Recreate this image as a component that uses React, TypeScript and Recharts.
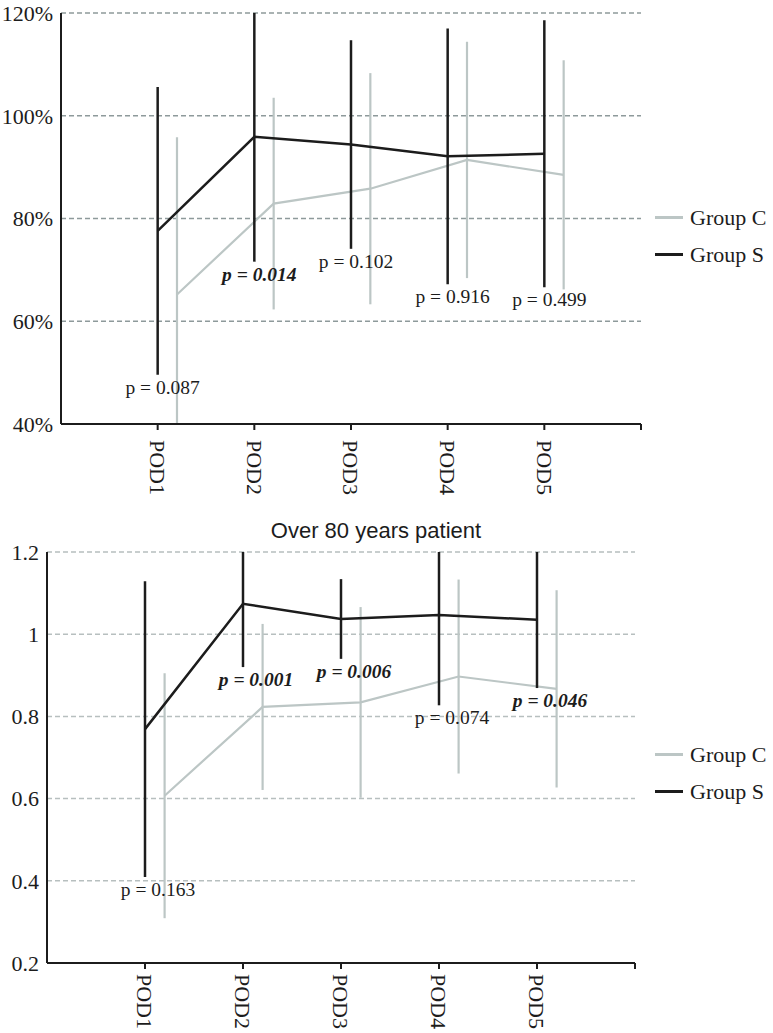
import React from "react";
import { CartesianGrid, ErrorBar, Legend, Line, LineChart, ReferenceDot, XAxis, YAxis } from "recharts";

const days = ["POD1", "POD2", "POD3", "POD4", "POD5"];

// all patients (%)
const allS = [77.6, 95.9, 94.4, 92.1, 92.6];
const allSsd = [28, 24.3, 20.3, 24.9, 26];
const allC = [65.2, 82.9, 85.8, 91.4, 88.5];
const allCsd = [30.6, 20.6, 22.5, 23, 22.3];
const allP = ["0.087", "0.014", "0.102", "0.916", "0.499"];
const allSig = [false, true, false, false, false];

// over 80 years
const oldS = [0.769, 1.074, 1.037, 1.047, 1.035];
const oldSsd = [0.36, 0.154, 0.097, 0.22, 0.166];
const oldC = [0.607, 0.823, 0.834, 0.897, 0.867];
const oldCsd = [0.298, 0.202, 0.232, 0.236, 0.24];
const oldP = ["0.163", "0.001", "0.006", "0.074", "0.046"];
const oldSig = [false, true, true, false, true];

const C_SHIFT = 0.2;
const DARK = "#1c1c1c";
const LIGHT = "#bcc6c5";
const SERIF = "'Liberation Serif', 'Times New Roman', serif";

// whiskers stop at the plot edge, like the original
const toRows = (vals: number[], sd: number[], shift: number, [lo, hi]: [number, number]) =>
  vals.map((v, i) => ({
    x: i + 1 + shift,
    v,
    e: [v - Math.max(v - sd[i], lo), Math.min(v + sd[i], hi) - v],
  }));

const PodTick = ({ x, y, payload, gap }: any) => {
  const label = days[payload.value - 1];
  if (!label) return null;
  return (
    <g transform={`translate(${x},${y}) rotate(90)`}>
      <text x={gap} y={0} dy="0.35em" textAnchor="start" fill={DARK} fontSize={22} fontFamily={SERIF}>
        {label}
      </text>
    </g>
  );
};

const LegendBox = () => (
  <div style={{ fontFamily: SERIF, fontSize: 22, color: DARK }}>
    {[
      { name: "Group C", color: LIGHT },
      { name: "Group S", color: DARK },
    ].map((it) => (
      <div key={it.name} style={{ display: "flex", alignItems: "center", height: 37 }}>
        <div style={{ width: 28, height: 0, borderTop: `3px solid ${it.color}`, marginRight: 7 }} />
        <span style={{ lineHeight: 1 }}>{it.name}</span>
      </div>
    ))}
  </div>
);

type PanelProps = {
  s: number[];
  ssd: number[];
  c: number[];
  csd: number[];
  p: string[];
  sig: boolean[];
  domain: [number, number];
  ticks: number[];
  fmt: (v: number) => string;
  width: number;
  height: number;
  margin: { top: number; right: number; bottom: number; left: number };
  yWidth: number;
  xHeight: number;
  gridColor: string;
  tickGap: number;
  pdx: number;
  legendPos: { left: number; top: number };
  children?: React.ReactNode;
};

function Panel(props: PanelProps) {
  const sRows = toRows(props.s, props.ssd, 0, props.domain);
  const cRows = toRows(props.c, props.csd, C_SHIFT, props.domain);
  return (
    <LineChart width={props.width} height={props.height} margin={props.margin}>
      <CartesianGrid vertical={false} stroke={props.gridColor} strokeWidth={1.5} strokeDasharray="5 3" />
      <XAxis
        type="number"
        dataKey="x"
        domain={[0, 6]}
        ticks={[1, 2, 3, 4, 5, 6]}
        allowDataOverflow
        height={props.xHeight}
        axisLine={{ stroke: DARK, strokeWidth: 2 }}
        tickLine={{ stroke: DARK, strokeWidth: 2 }}
        tickSize={6}
        tick={<PodTick gap={props.tickGap} />}
      />
      <YAxis
        type="number"
        domain={props.domain}
        ticks={props.ticks}
        allowDataOverflow
        width={props.yWidth}
        axisLine={{ stroke: DARK, strokeWidth: 2 }}
        tickLine={false}
        tickFormatter={props.fmt}
        tick={{ fill: DARK, fontSize: 22, fontFamily: SERIF }}
      />
      <Legend
        layout="vertical"
        align="center"
        verticalAlign="middle"
        content={<LegendBox />}
        wrapperStyle={{ left: props.legendPos.left, top: props.legendPos.top, width: 130 }}
      />
      <Line data={cRows} dataKey="v" name="Group C" stroke={LIGHT} strokeWidth={2.2} dot={false} isAnimationActive={false}>
        <ErrorBar dataKey="e" width={0} stroke={LIGHT} strokeWidth={2.2} direction="y" isAnimationActive={false} />
      </Line>
      <Line data={sRows} dataKey="v" name="Group S" stroke={DARK} strokeWidth={2.5} dot={false} isAnimationActive={false}>
        <ErrorBar dataKey="e" width={0} stroke={DARK} strokeWidth={2.5} direction="y" isAnimationActive={false} />
      </Line>
      {props.p.map((pv, i) => (
        <ReferenceDot
          key={i}
          x={i + 1}
          y={props.s[i] - props.ssd[i]}
          r={0}
          shape={(d: any) => (
            <text
              x={d.cx + props.pdx}
              y={d.cy + 19}
              textAnchor="middle"
              fill={DARK}
              fontSize={19.5}
              fontFamily={SERIF}
              fontWeight={props.sig[i] ? "bold" : "normal"}
              fontStyle={props.sig[i] ? "italic" : "normal"}
            >
              {`p = ${pv}`}
            </text>
          )}
        />
      ))}
      {props.children}
    </LineChart>
  );
}

export default function App() {
  return (
    <div style={{ position: "absolute", left: 0, top: 0, width: 773, height: 1033, background: "#fff" }}>
      <Panel
        s={allS}
        ssd={allSsd}
        c={allC}
        csd={allCsd}
        p={allP}
        sig={allSig}
        domain={[40, 120]}
        ticks={[40, 60, 80, 100, 120]}
        fmt={(v) => `${v}%`}
        width={773}
        height={515}
        margin={{ top: 13, right: 132, bottom: 11, left: 0 }}
        yWidth={61}
        xHeight={80}
        gridColor="#8e9a9b"
        tickGap={8}
        pdx={5}
        legendPos={{ left: 655, top: 199 }}
      />
      <div style={{ position: "relative" }}>
        <Panel
          s={oldS}
          ssd={oldSsd}
          c={oldC}
          csd={oldCsd}
          p={oldP}
          sig={oldSig}
          domain={[0.2, 1.2]}
          ticks={[0.2, 0.4, 0.6, 0.8, 1, 1.2]}
          fmt={(v) => String(v)}
          width={773}
          height={518}
          margin={{ top: 37, right: 138, bottom: 0, left: 0 }}
          yWidth={47}
          xHeight={70}
          gridColor="#b7bfbf"
          tickGap={3}
          pdx={13}
          legendPos={{ left: 655, top: 221 }}
        >
          <text x={376} y={23} textAnchor="middle" fill={DARK} fontSize={22} fontFamily="'Liberation Sans', Arial, sans-serif">
            Over 80 years patient
          </text>
        </Panel>
      </div>
    </div>
  );
}
